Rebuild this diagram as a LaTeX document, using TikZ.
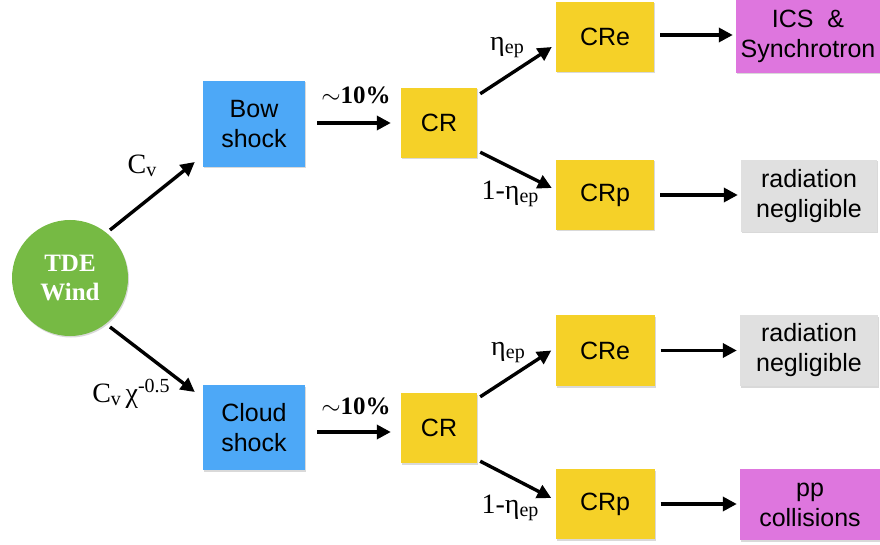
\documentclass[tikz,border=0pt]{standalone}
\usepackage{fontspec}
\setmainfont{Liberation Serif}
\newfontfamily\boxfont{Liberation Sans}
\usetikzlibrary{arrows.meta,shadows,calc}
\definecolor{bluebox}{RGB}{77,168,247}
\definecolor{yellowbox}{RGB}{245,209,40}
\definecolor{magbox}{RGB}{222,118,222}
\definecolor{graybox}{RGB}{224,224,224}
\definecolor{windgreen}{RGB}{118,186,68}
\newcommand{\lowsub}[1]{\raisebox{-3pt}{\fontsize{20}{20}\selectfont #1}}
\newcommand{\highsup}[1]{\raisebox{10pt}{\fontsize{20}{20}\selectfont #1}}
\begin{document}
\begin{tikzpicture}[x=1pt,y=-1pt,
  box/.style={rectangle,inner sep=0pt,align=center,
    font=\boxfont\fontsize{25}{30}\selectfont,
    drop shadow={shadow xshift=1pt,shadow yshift=-1.5pt,opacity=0.3}},
  blue/.style={box,fill=bluebox},
  yel/.style={box,fill=yellowbox},
  mag/.style={box,fill=magbox},
  gry/.style={box,fill=graybox},
  arr/.style={-{Triangle[length=14pt,width=14pt]},line width=3.4pt},
  lab/.style={font=\fontsize{28}{30}\selectfont,inner sep=0pt},
  pct/.style={font=\bfseries\fontsize{25}{27}\selectfont,inner sep=0pt}]
\useasboundingbox (0,0) rectangle (880,545);

% nodes
\node[circle,fill=windgreen,minimum size=116pt,inner sep=0pt,align=center,
  text=white,font=\bfseries\fontsize{25}{29}\selectfont,
  drop shadow={shadow xshift=1pt,shadow yshift=-1.5pt,opacity=0.3}] (wind) at (70,278) {TDE\\Wind};

\node[blue,minimum width=102pt,minimum height=86pt] (bow) at (254,124) {Bow\\shock};
\node[blue,minimum width=102pt,minimum height=85pt] (cloud) at (254,427.5) {Cloud\\shock};

\node[yel,minimum width=76pt,minimum height=70pt] (crt) at (439,123) {CR};
\node[yel,minimum width=76pt,minimum height=70pt] (crb) at (439,428) {CR};

\node[yel,minimum width=98pt,minimum height=70pt] (cret) at (605,37) {CRe};
\node[yel,minimum width=98pt,minimum height=70pt] (crpt) at (605,195) {CRp};
\node[yel,minimum width=99pt,minimum height=71pt] (creb) at (605,350.5) {CRe};
\node[yel,minimum width=99pt,minimum height=70pt] (crpb) at (605,504) {CRp};

\node[mag,minimum width=144pt,minimum height=73pt] (ics) at (808,36.5) {ICS~~\&\\Synchrotron};
\node[gry,minimum width=136pt,minimum height=72pt] (radt) at (809,196) {radiation\\negligible};
\node[gry,minimum width=138pt,minimum height=71pt] (radb) at (809,350.5) {radiation\\negligible};
\node[mag,minimum width=140pt,minimum height=71pt] (pp) at (810,504.5) {pp\\collisions};

% connectors
\draw[arr] ($(wind.center)+(40,-48)$) -- ($(bow.west)+(-8,38)$);
\draw[arr] ($(wind.center)+(40,49)$) -- ($(cloud.west)+(-8,-35.5)$);

\draw[arr] ($(bow.east)+(12,-1)$) -- ($(crt.west)+(-10,0)$);
\draw[arr] ($(cloud.east)+(12,4.5)$) -- ($(crb.west)+(-10,4)$);

\draw[arr] ($(crt.north east)+(3,6)$) -- ($(cret.west)+(-4,10)$);
\draw[arr] ($(crt.south east)+(3,-6)$) -- ($(crpt.west)+(-4,-7)$);
\draw[arr] ($(crb.north east)+(3,4)$) -- ($(creb.west)+(-4,0)$);
\draw[arr] ($(crb.south east)+(3,-2)$) -- ($(crpb.west)+(-4,-6)$);

\draw[arr] ($(cret.east)+(6,-2)$) -- ($(ics.west)+(-3,-1.5)$);
\draw[arr] ($(crpt.east)+(6,0)$) -- ($(radt.west)+(-3,-1)$);
\draw[arr] ($(creb.east)+(6,0)$) -- ($(radb.west)+(-3,0)$);
\draw[arr] ($(crpb.east)+(6,0)$) -- ($(pp.west)+(-3,-0.5)$);

% labels
\node[lab] (lcv) at (142,166) {C\lowsub{v}};
\node[lab] (lcvchi) at (131,394) {C\lowsub{v}\,χ\highsup{-0.5}};
\node[pct] (p1) at (356,95) {$\sim$10\%};
\node[pct] (p2) at (356,406) {$\sim$10\%};
\node[lab] (e1) at (507,48) {η\lowsub{ep}};
\node[lab] (e2) at (510,194) {1-η\lowsub{ep}};
\node[lab] (e3) at (508,353) {η\lowsub{ep}};
\node[lab] (e4) at (510,508) {1-η\lowsub{ep}};
\end{tikzpicture}
\end{document}
